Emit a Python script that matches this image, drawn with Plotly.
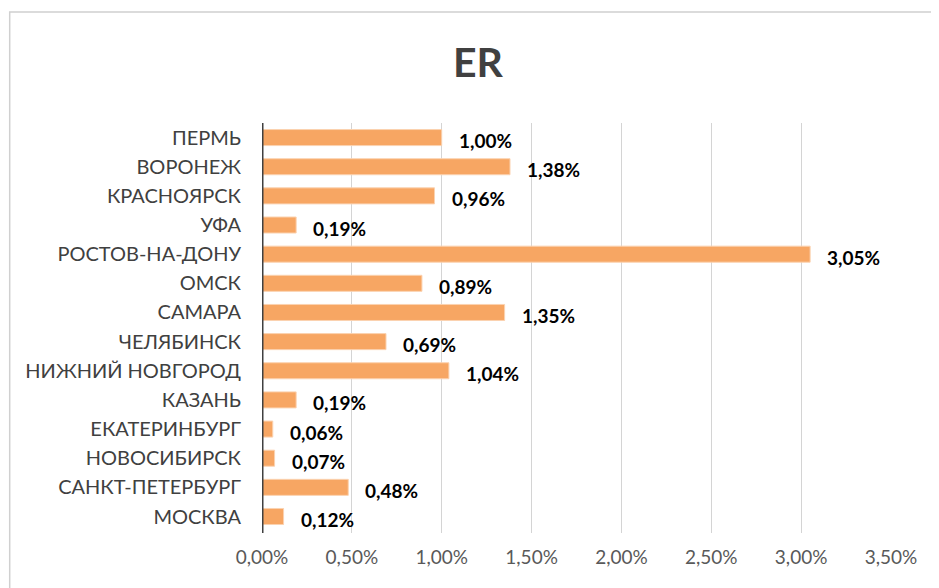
import plotly.graph_objects as go

cities = ["МОСКВА", "САНКТ-ПЕТЕРБУРГ", "НОВОСИБИРСК", "ЕКАТЕРИНБУРГ", "КАЗАНЬ",
          "НИЖНИЙ НОВГОРОД", "ЧЕЛЯБИНСК", "САМАРА", "ОМСК", "РОСТОВ-НА-ДОНУ",
          "УФА", "КРАСНОЯРСК", "ВОРОНЕЖ", "ПЕРМЬ"]
er_pct = [0.12, 0.48, 0.07, 0.06, 0.19, 1.04, 0.69, 1.35, 0.89, 3.05, 0.19, 0.96, 1.38, 1.00]
x_ticks = [0, 0.5, 1.0, 1.5, 2.0, 2.5, 3.0, 3.5]

vals = [v / 100 for v in er_pct]
labels = [f"{v:.2f}%".replace(".", ",") for v in er_pct]

# page body offset (8px) compensation
OFF = 8
L = 261.5 - OFF
T = 123 - OFF
R = 939 - (891 - OFF)
B = 588 - (533 - OFF)
PW = 939 - L - R
PH = 588 - T - B

fig = go.Figure()
fig.add_trace(go.Bar(
    x=vals, y=cities, orientation="h",
    marker=dict(color="#F7A663", line=dict(color="#FBD2B0", width=1)),
    hoverinfo="skip",
))

annotations = []
for c, v, t in zip(cities, vals, labels):
    annotations.append(dict(x=v, y=c, xref="x", yref="y", text=t, showarrow=False,
                            xanchor="left", yanchor="middle", xshift=15, yshift=-3,
                            font=dict(family="Lato, sans-serif", size=19, color="#000000", weight="bold")))

fig.update_layout(
    width=939, height=588,
    paper_bgcolor="white", plot_bgcolor="white",
    margin=dict(l=L, r=R, t=T, b=B),
    separators=",.",
    bargap=0.45,
    showlegend=False,
    title=dict(text="ER", x=(478 - OFF) / 939, xanchor="center", y=1 - (63 - OFF) / 588,
               yanchor="middle", yref="container",
               font=dict(family="Lato, sans-serif", size=41, color="#404040", weight="bold")),
    xaxis=dict(range=[0, 3.5 / 100], tickvals=[t / 100 for t in x_ticks], tickformat=".2%",
               showgrid=True, gridcolor="#D4D4D4", gridwidth=1, zeroline=False,
               showline=False, ticks="", ticklabelstandoff=11,
               tickfont=dict(family="Lato, sans-serif", size=19, color="#595959")),
    yaxis=dict(showgrid=False, zeroline=False, showline=False, ticks="",
               ticklabelstandoff=20,
               tickfont=dict(family="Lato, sans-serif", size=20, color="#404040")),
    annotations=annotations,
    shapes=[
        dict(type="line", xref="x", yref="paper", x0=0, x1=0, y0=0, y1=1,
             line=dict(color="#404040", width=3)),
        dict(type="rect", xref="paper", yref="paper",
             x0=(1 - L) / PW, x1=(980 - L) / PW,
             y0=(T + PH - 640) / PH, y1=(T + PH - (12 - OFF)) / PH,
             line=dict(color="#D0D0D0", width=1.5)),
    ],
)

fig.write_html("out.html")
